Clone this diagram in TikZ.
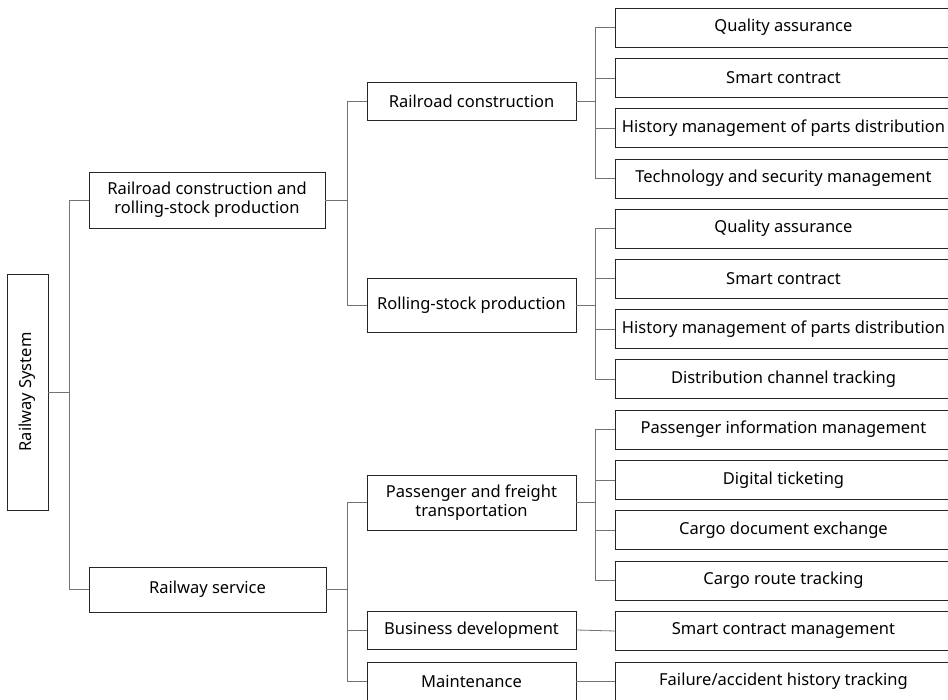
\documentclass[tikz,border=0pt]{standalone}
\usepackage{fontspec}
\setmainfont{Noto Sans}
\definecolor{boxline}{gray}{0.15}
\definecolor{linkline}{gray}{0.45}
\tikzset{
	box/.style={draw=boxline, line width=0.9pt, fill=white, align=center, inner sep=0pt, font=\fontsize{16.5}{19}\selectfont},
	leaf/.style={box, anchor=west, minimum width=336, minimum height=39},
	mid/.style={box, minimum width=209},
	link/.style={draw=linkline, line width=0.8pt}
}
\begin{document}
\begin{tikzpicture}[x=1pt, y=-1pt]
	\useasboundingbox (0,0) rectangle (948,700);
	\clip (0,0) rectangle (948,700);
	
	%%% Корень и первый уровень
	\node[box, minimum width=41, minimum height=236] (rsys) at (27.5,392) {\rotatebox{90}{Railway~System}};
	\node[box, minimum width=236, minimum height=56] (build) at (207,200) {Railroad construction and\\rolling-stock production};
	\node[box, minimum width=237, minimum height=45] (serv) at (207.5,589.5) {Railway service};
	
	%%% Второй уровень
	\node[mid, minimum height=38] (road) at (471.5,101) {Railroad construction};
	\node[mid, minimum height=54] (stock) at (471.5,305) {Rolling-stock production};
	\node[mid, minimum height=55] (trans) at (471.5,502.5) {Passenger and freight\\transportation};
	\node[mid, minimum height=38] (biz) at (471.5,630) {Business development};
	\node[mid, minimum height=39] (maint) at (471.5,681.5) {Maintenance};
	
	%%% Листья
	
	% Railroad construction
	\node[leaf] (road1) at (615,27.5) {Quality assurance};
	\node[leaf] (road2) at (615,78) {Smart contract};
	\node[leaf] (road3) at (615,128) {History management of parts distribution};
	\node[leaf] (road4) at (615,178.5) {Technology and security management};
	
	% Rolling-stock production
	\node[leaf] (stock1) at (615,228.5) {Quality assurance};
	\node[leaf] (stock2) at (615,278.5) {Smart contract};
	\node[leaf] (stock3) at (615,329) {History management of parts distribution};
	\node[leaf] (stock4) at (615,379) {Distribution channel tracking};
	
	% Passenger and freight transportation
	\node[leaf] (trans1) at (615,429.5) {Passenger information management};
	\node[leaf] (trans2) at (615,480) {Digital ticketing};
	\node[leaf] (trans3) at (615,530) {Cargo document exchange};
	\node[leaf] (trans4) at (615,580.5) {Cargo route tracking};
	
	% Business development, Maintenance
	\node[leaf] (biz1) at (615,631) {Smart contract management};
	\node[leaf] (maint1) at (615,681.5) {Failure/accident history tracking};
	
	%%% Связи
	\foreach \c in {build,serv}
		\draw[link] (rsys.east) -- ++(21,0) |- (\c.west);
	\foreach \c in {road,stock}
		\draw[link] (build.east) -- ++(22,0) |- (\c.west);
	\foreach \c in {trans,biz,maint}
		\draw[link] (serv.east) -- ++(21,0) |- (\c.west);
	\foreach \p in {road,stock,trans}
		\foreach \i in {1,...,4}
			\draw[link] (\p.east) -- ++(19,0) |- (\p\i.west);
	\draw[link] (biz.east) -- (biz1.west);
	\draw[link] (maint.east) -- (maint1.west);
\end{tikzpicture}
\end{document}
